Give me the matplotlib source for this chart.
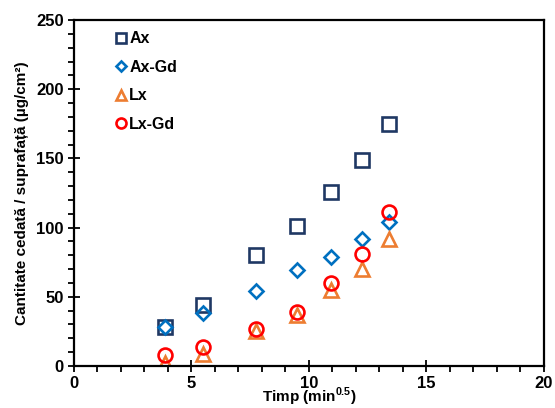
import numpy as np
import matplotlib.pyplot as plt

plt.rcParams['font.family'] = ['Liberation Sans', 'DejaVu Sans']
plt.rcParams['font.weight'] = 'bold'
plt.rcParams['mathtext.fontset'] = 'custom'
plt.rcParams['mathtext.rm'] = 'Liberation Sans'
plt.rcParams['mathtext.bf'] = 'Liberation Sans:bold'

# time (min^0.5)
t = np.array([3.87, 5.48, 7.75, 9.49, 10.95, 12.25, 13.42])

ax_vals = [28, 44, 80, 101, 126, 149, 175]
axgd_vals = [28, 38, 54, 69, 79, 92, 104]
lx_vals = [2, 9, 25, 37, 55, 70, 92]
lxgd_vals = [8, 14, 27, 39, 60, 81, 111]

labels = ["Ax", "Ax-Gd", "Lx", "Lx-Gd"]
colors = ["#1F3864", "#0070C0", "#ED7D31", "#FF0000"]
markers = ["s", "D", "^", "o"]
sizes = [10.5, 7.5, 9.5, 10]

fig = plt.figure(figsize=(5.55, 4.08), dpi=100)
ax = fig.add_axes([0.1333, 0.103, 0.8467, 0.848])

for y, lab, c, m, s in zip([ax_vals, axgd_vals, lx_vals, lxgd_vals], labels, colors, markers, sizes):
    ax.plot(t, y, linestyle='none', marker=m, markersize=s, markerfacecolor='none',
            markeredgecolor=c, markeredgewidth=1.9, label=lab)

ax.set_xlim(0, 20)
ax.set_ylim(0, 250)
ax.set_xticks(np.arange(0, 21, 5))
ax.set_xticks(np.arange(0, 21, 1), minor=True)
ax.set_yticks(np.arange(0, 251, 50))
ax.set_yticks(np.arange(0, 251, 10), minor=True)
ax.tick_params(axis='both', which='major', direction='inout', length=8, width=1.3, labelsize=12)
ax.tick_params(axis='both', which='minor', direction='out', length=4, width=1.3)
for sp in ax.spines.values():
    sp.set_linewidth(1.6)

ax.set_xlabel(r"Timp (min$^{0.5}$)", fontsize=11, fontweight='bold', labelpad=-4)
ax.set_ylabel("Cantitate cedată / suprafață (µg/cm²)", fontsize=11, fontweight='bold', labelpad=5)

leg = ax.legend(loc='upper left', frameon=False, fontsize=11.5, handletextpad=0.0,
                labelspacing=0.85, borderaxespad=0.3, bbox_to_anchor=(0.06, 1.0),
                handlelength=1.0, markerscale=0.72)

fig.savefig("out.png", dpi=100)
